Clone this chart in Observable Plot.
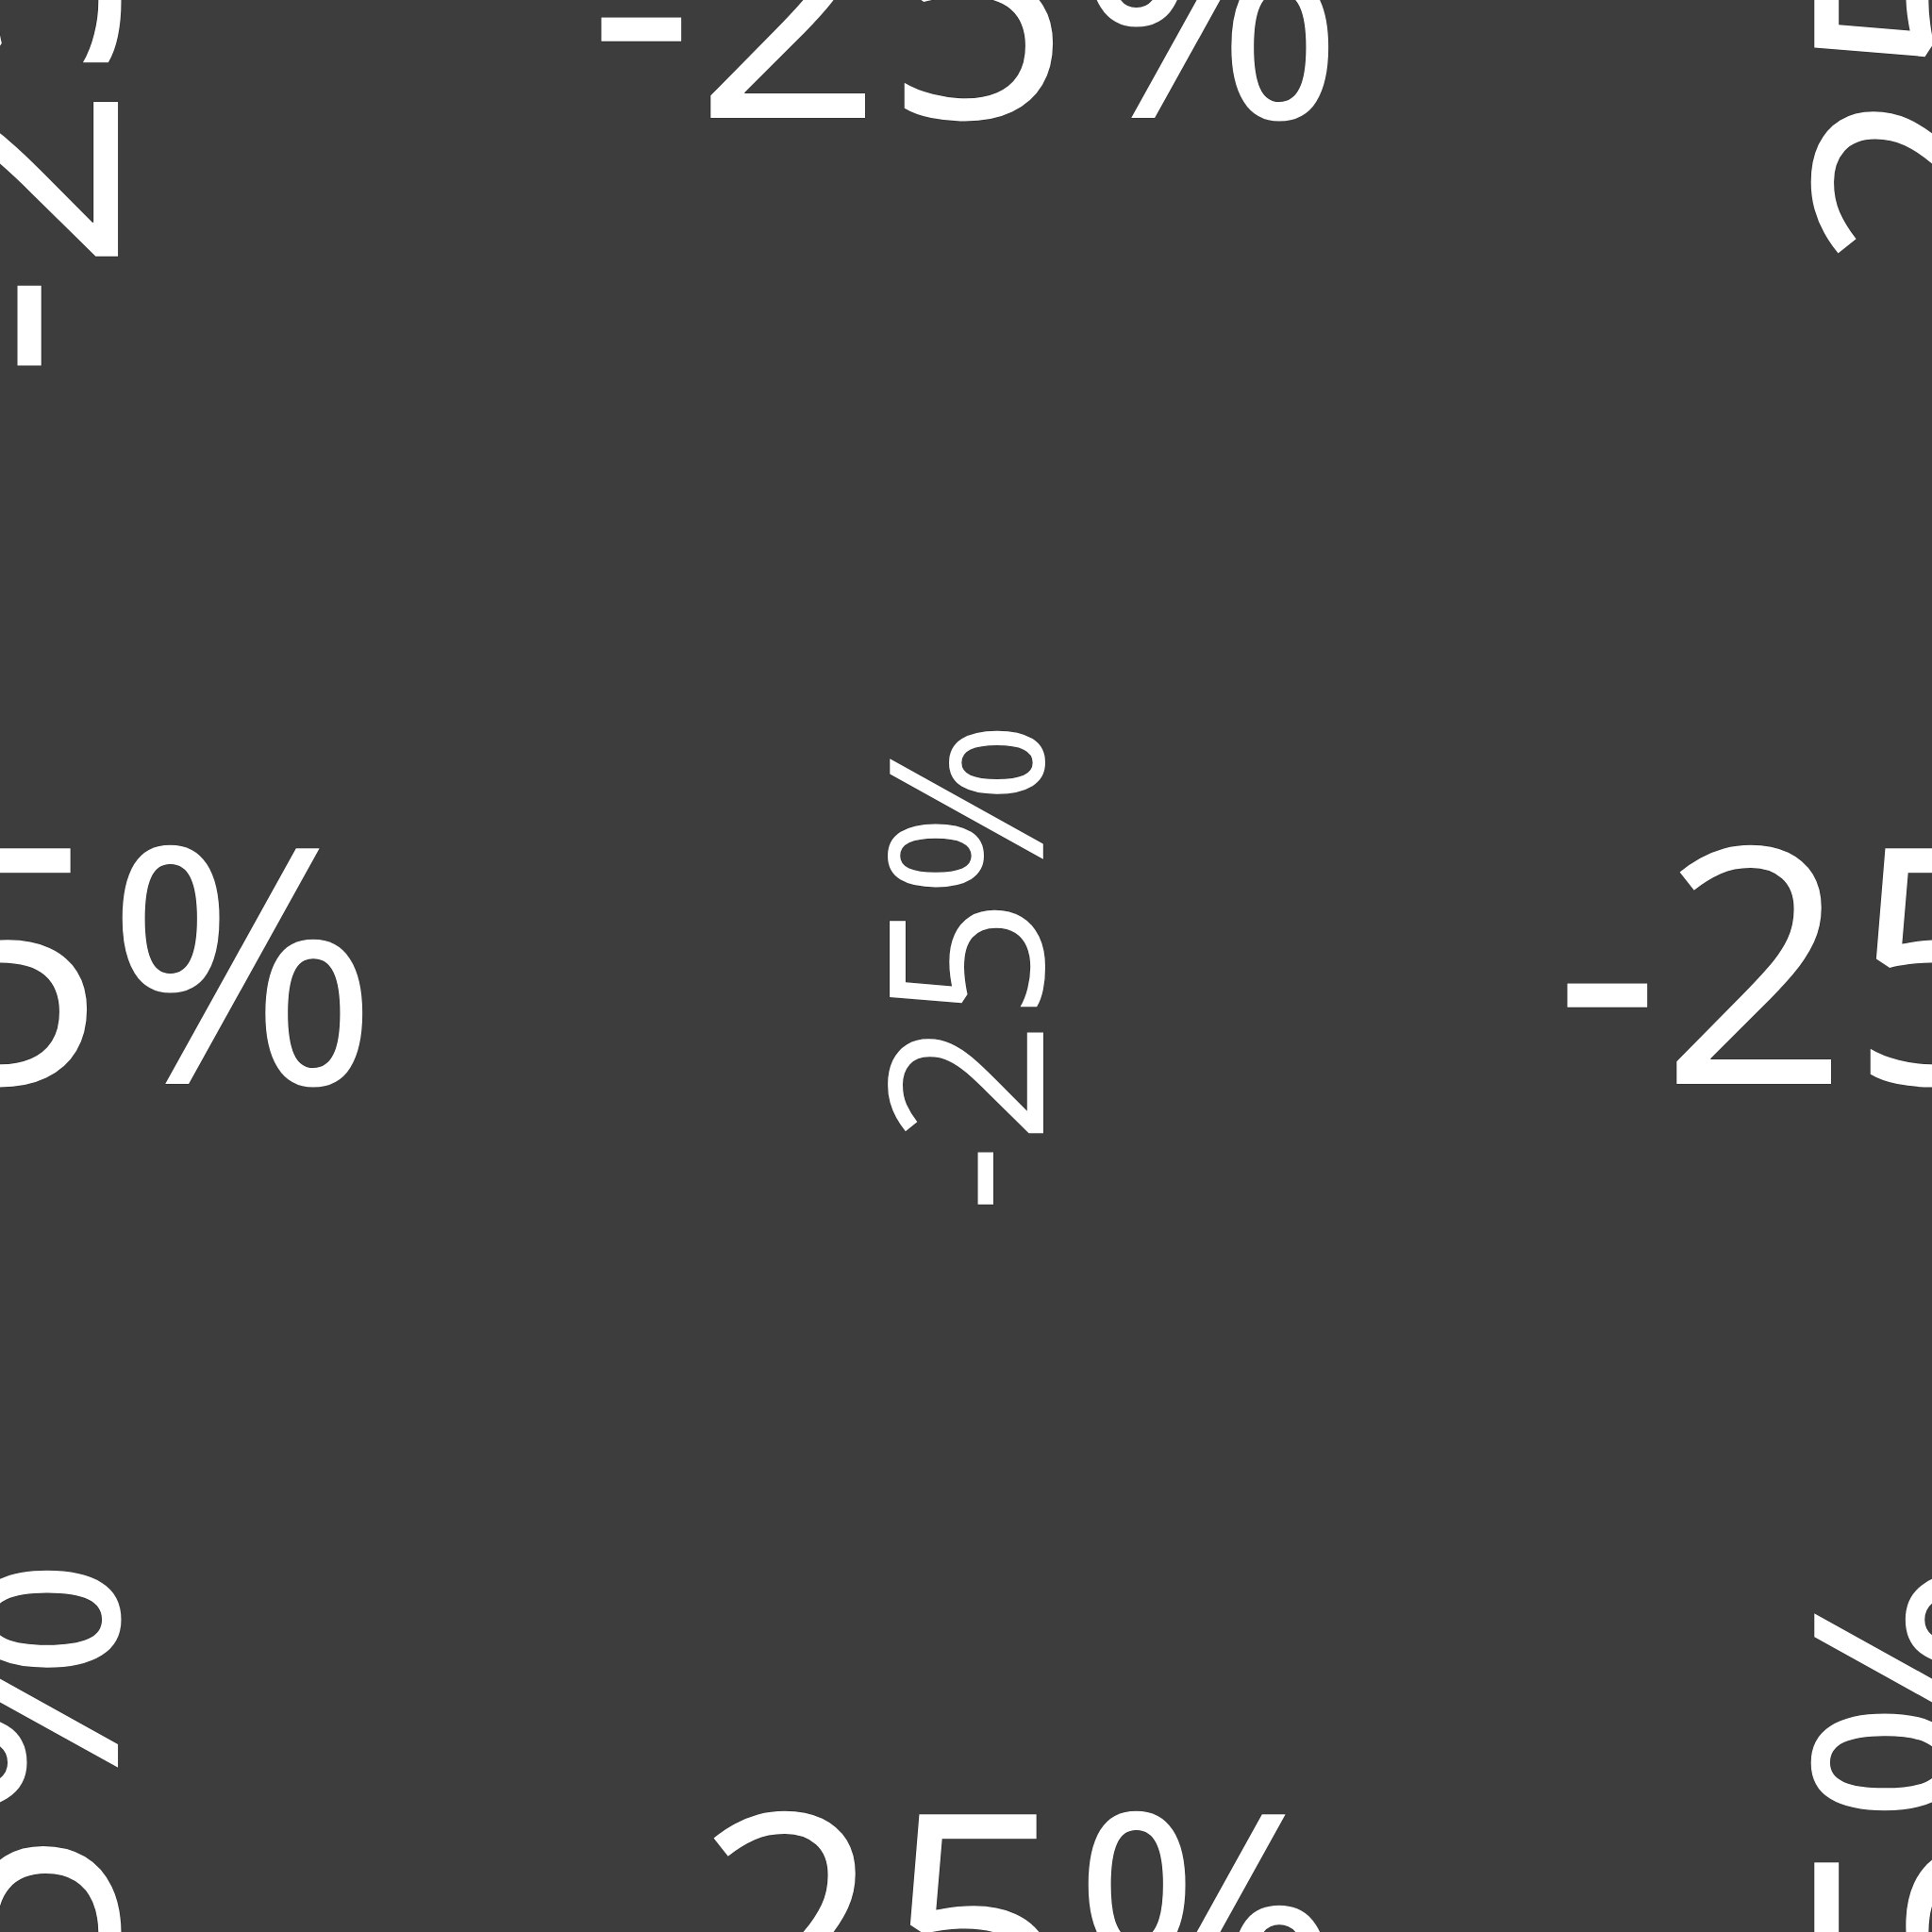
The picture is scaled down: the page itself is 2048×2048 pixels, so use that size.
<!DOCTYPE html>
<html>
<head>
<meta charset="utf-8">
<script src="https://cdn.jsdelivr.net/npm/d3@7"></script>
<script src="https://cdn.jsdelivr.net/npm/@observablehq/plot@0.6"></script>
<style>
  html, body { margin: 0; padding: 0; background: #3d3d3d; }
  #chart svg { display: block; }
</style>
</head>
<body>
<div id="chart"></div>
<script>
// The single KPI value shown, tiled over a 3x3 grid
const kpiValue = -0.25;
const gridCols = [0, 1, 2];
const gridRows = [0, 1, 2];

const fmt = d3.formatLocale({decimal: ".", thousands: ",", grouping: [3], currency: ["", ""], minus: "-"}).format(".0%");

const tiles = [];
for (const r of gridRows) for (const c of gridCols) {
  tiles.push({col: c, row: r, label: fmt(kpiValue), center: c === 1 && r === 1, turned: (c + r) % 2 === 0});
}

const BIG = 350, SMALL = 228, SHIFT = 0.036;
const common = {
  x: "col",
  y: "row",
  text: "label",
  textAnchor: "middle",
  lineAnchor: "middle",
  fill: "white",
  stroke: "#262626",
  strokeWidth: 1,
  paintOrder: "stroke"
};

const chart = Plot.plot({
  width: 2048,
  height: 2048,
  margin: 0,
  x: {domain: [0, 2], axis: null},
  y: {domain: [0, 2], axis: null},
  style: {background: "#3d3d3d", fontFamily: "'Open Sans', 'Noto Sans', sans-serif"},
  marks: [
    // horizontal tiles
    Plot.text(tiles, {...common, filter: d => !d.turned, fontSize: BIG, dy: BIG * SHIFT}),
    // rotated corner tiles
    Plot.text(tiles, {...common, filter: d => d.turned && !d.center, rotate: -90, fontSize: BIG, dx: BIG * SHIFT}),
    // rotated center tile
    Plot.text(tiles, {...common, filter: d => d.center, rotate: -90, fontSize: SMALL, dx: SMALL * SHIFT})
  ]
});
document.getElementById("chart").appendChild(chart);
</script>
</body>
</html>
